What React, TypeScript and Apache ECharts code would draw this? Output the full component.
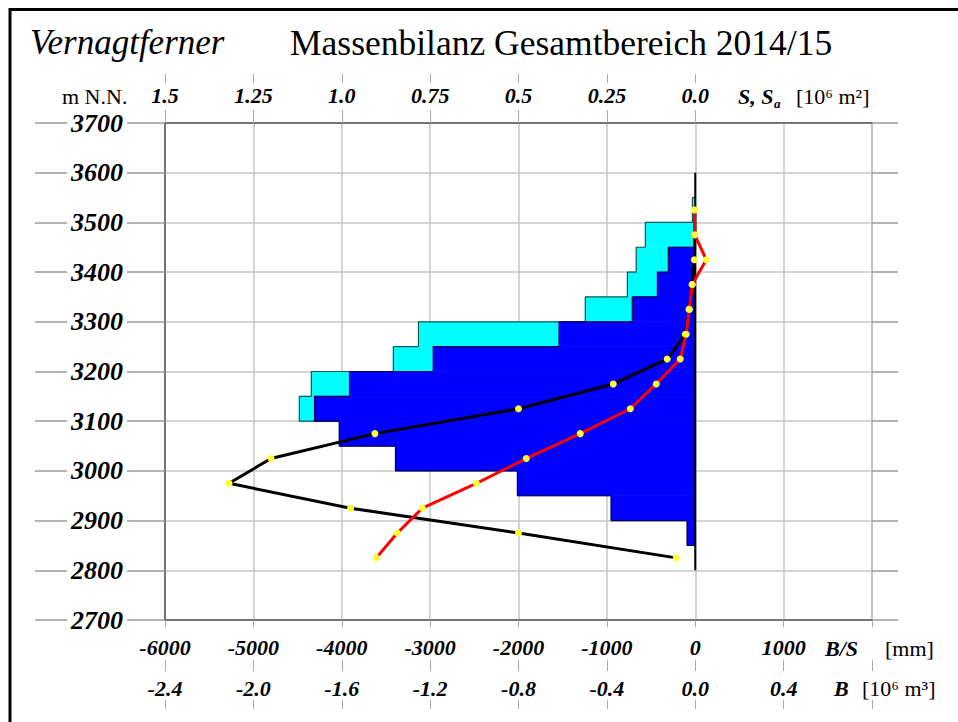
import React, { useEffect, useRef } from "react";
import * as echarts from "echarts";

// ---- data ----
// elevation bands (lower bound, 50 m bands), areas in 10^6 m^2
const blueBandLow = [2850, 2900, 2950, 3000, 3050, 3100, 3150, 3200, 3250, 3300, 3350, 3400];
const blueArea = [0.023, 0.238, 0.503, 0.848, 1.007, 1.077, 0.978, 0.741, 0.385, 0.178, 0.107, 0.076];
const cyanBandLow = [3100, 3150, 3200, 3250, 3300, 3350, 3400, 3450, 3500];
const cyanArea = [1.12, 1.086, 0.854, 0.783, 0.311, 0.192, 0.167, 0.141, 0.008];
const bandHeight = 50;

// band mid elevations for curves
const pointElev = [2825, 2875, 2925, 2975, 3025, 3075, 3125, 3175, 3225, 3275, 3325, 3375, 3425, 3475, 3525];
// specific balance B/S [mm]
const specBalance = [-3609, -3371, -3088, -2477, -1912, -1301, -735, -441, -170, -102, -68, -34, 124, -5, -10];
// volume balance B [10^6 m^3]
const volBalance = [-0.086, -0.8, -1.56, -2.11, -1.92, -1.45, -0.8, -0.371, -0.127, -0.045, -0.028, -0.014, -0.004, -0.002, -0.002];

// zero reference line
const zeroLineElev = [2800, 3600];

// tick labels
const elevTicks = [2700, 2800, 2900, 3000, 3100, 3200, 3300, 3400, 3500, 3600, 3700];
const mmTicks = [-6000, -5000, -4000, -3000, -2000, -1000, 0, 1000];
const volTicks = [-2.4, -2.0, -1.6, -1.2, -0.8, -0.4, 0.0, 0.4];
const areaTicks = [1.5, 1.25, 1.0, 0.75, 0.5, 0.25, 0.0];

const SERIF = '"Liberation Serif", "Times New Roman", serif';

function stepOutline(lows: number[], vals: number[]): number[][] {
  const idx = lows.map((_, i) => i).sort((a, b) => lows[b] - lows[a]);
  const pts: number[][] = [];
  pts.push([0, lows[idx[0]] + bandHeight]);
  idx.forEach((i) => {
    pts.push([vals[i], lows[i] + bandHeight]);
    pts.push([vals[i], lows[i]]);
  });
  pts.push([0, lows[idx[idx.length - 1]]]);
  return pts;
}

function bandSeries(name: string, lows: number[], vals: number[], color: string, z: number) {
  return {
    name,
    type: "custom",
    xAxisIndex: 3,
    yAxisIndex: 0,
    z,
    encode: { x: 1, y: 0 },
    data: lows.map((l, i) => [l, vals[i]]),
    renderItem: (params: any, api: any) => {
      const low = api.value(0);
      const s = api.value(1);
      const p0 = api.coord([0, low + bandHeight]);
      const p1 = api.coord([s, low]);
      return {
        type: "rect",
        shape: {
          x: Math.min(p0[0], p1[0]),
          y: Math.min(p0[1], p1[1]),
          width: Math.abs(p1[0] - p0[0]),
          height: Math.abs(p1[1] - p0[1]),
        },
        style: { fill: color, stroke: color, lineWidth: 0.6 },
      };
    },
  };
}

const fmtVol = (v: number) => (Math.round(v * 10) / 10 + 0).toFixed(1);
const fmtArea = (v: number) => {
  const r = Math.round(v * 100) / 100 + 0;
  if (r === 1) return "1.0";
  if (r === 0) return "0.0";
  return String(r);
};

export default function App() {
  const ref = useRef<HTMLDivElement>(null);
  useEffect(() => {
    if (!ref.current) return;
    const chart = echarts.init(ref.current, null, { renderer: "svg" });
    const labelFont = { fontFamily: SERIF, fontStyle: "italic", fontWeight: "bold", fontSize: 22, color: "#000" };
    const gridCol = "#c6c6c6";
    const axisCol = "#555";
    const tickCol = "#a8a8a8";

    const option: any = {
      animation: false,
      backgroundColor: "#fff",
      grid: { left: 165, top: 123, right: 86, bottom: 102, containLabel: false },
      xAxis: [
        {
          type: "value", position: "bottom", min: -6000, max: 2000, interval: 1000,
          axisLine: { show: true, onZero: false, lineStyle: { color: axisCol, width: 1.5 } },
          axisTick: { show: true, length: 7, lineStyle: { color: tickCol } },
          splitLine: { show: true, lineStyle: { color: gridCol, width: 1.5 } },
          axisLabel: { ...labelFont, margin: 16, customValues: mmTicks, formatter: (v: number) => String(v) },
        },
        {
          type: "value", position: "bottom", offset: 40, min: -2.4, max: 0.8, interval: 0.4,
          axisLine: { show: false, onZero: false },
          axisTick: { show: true, length: 11, lineStyle: { color: tickCol } },
          splitLine: { show: false },
          axisLabel: { ...labelFont, margin: 17, customValues: volTicks, formatter: fmtVol },
        },
        {
          type: "value", position: "bottom", offset: 80, min: -2.4, max: 0.8, interval: 0.4,
          axisLine: { show: false, onZero: false },
          axisTick: { show: true, length: 9, lineStyle: { color: tickCol } },
          splitLine: { show: false },
          axisLabel: { show: false },
        },
        {
          type: "value", position: "top", min: -0.5, max: 1.5, interval: 0.25, inverse: true,
          axisLine: { show: true, onZero: false, lineStyle: { color: axisCol, width: 1.5 } },
          axisTick: { show: true, length: 13, customValues: areaTicks, lineStyle: { color: tickCol } },
          splitLine: { show: false },
          axisLabel: { ...labelFont, margin: 17, customValues: areaTicks, formatter: fmtArea },
        },
        {
          type: "value", position: "top", offset: 40, min: -0.5, max: 1.5, interval: 0.25, inverse: true,
          axisLine: { show: false, onZero: false },
          axisTick: { show: true, length: 9, customValues: areaTicks, lineStyle: { color: tickCol } },
          splitLine: { show: false },
          axisLabel: { show: false },
        },
      ],
      yAxis: [
        {
          type: "value", position: "left", min: 2700, max: 3700, interval: 100,
          axisLine: { show: true, onZero: false, lineStyle: { color: axisCol, width: 1.5 } },
          axisTick: { show: true, length: 130, lineStyle: { color: "#9a9a9a", width: 1.5 } },
          splitLine: { show: true, lineStyle: { color: gridCol, width: 1.5 } },
          axisLabel: {
            fontFamily: SERIF, fontStyle: "italic", fontWeight: "bold", fontSize: 26, color: "#000",
            margin: 38, backgroundColor: "#fff", padding: [0, 4, 0, 4],
            customValues: elevTicks, formatter: (v: number) => String(v),
          },
        },
        {
          type: "value", position: "right", min: 2700, max: 3700, interval: 100,
          axisLine: { show: true, onZero: false, lineStyle: { color: "#bdbdbd", width: 1.5 } },
          axisTick: { show: true, length: 26, lineStyle: { color: "#9a9a9a", width: 1.5 } },
          splitLine: { show: false },
          axisLabel: { show: false },
        },
      ],
      graphic: [
        { type: "rect", shape: { x: 10, y: 9.5, width: 1100, height: 1000 }, style: { fill: "none", stroke: "#000", lineWidth: 3 }, z: 100 },
        { type: "text", x: 30, y: 42, style: { text: "Vernagtferner", fontFamily: SERIF, fontStyle: "italic", fontSize: 35, fill: "#000", verticalAlign: "middle" } },
        { type: "text", x: 290, y: 43, style: { text: "Massenbilanz Gesamtbereich 2014/15", fontFamily: SERIF, fontSize: 35.5, fill: "#000", verticalAlign: "middle" } },
        { type: "text", x: 62, y: 96, style: { text: "m N.N.", fontFamily: SERIF, fontSize: 22, fill: "#000", verticalAlign: "middle" } },
        { type: "text", x: 738, y: 96, style: { text: "S, S", fontFamily: SERIF, fontStyle: "italic", fontWeight: "bold", fontSize: 22, fill: "#000", verticalAlign: "middle" } },
        { type: "text", x: 774, y: 103, style: { text: "a", fontFamily: SERIF, fontStyle: "italic", fontWeight: "bold", fontSize: 13, fill: "#000", verticalAlign: "middle" } },
        { type: "text", x: 796, y: 96, style: { text: "[10\u2076 m\u00b2]", fontFamily: SERIF, fontSize: 22, fill: "#000", verticalAlign: "middle" } },
        { type: "text", x: 825, y: 648, style: { text: "B/S", fontFamily: SERIF, fontStyle: "italic", fontWeight: "bold", fontSize: 22, fill: "#000", verticalAlign: "middle" } },
        { type: "text", x: 885, y: 648, style: { text: "[mm]", fontFamily: SERIF, fontSize: 22, fill: "#000", verticalAlign: "middle" } },
        { type: "text", x: 834, y: 688, style: { text: "B", fontFamily: SERIF, fontStyle: "italic", fontWeight: "bold", fontSize: 22, fill: "#000", verticalAlign: "middle" } },
        { type: "text", x: 862, y: 688, style: { text: "[10\u2076 m\u00b3]", fontFamily: SERIF, fontSize: 22, fill: "#000", verticalAlign: "middle" } },
      ],
      series: [
        bandSeries("Sa", cyanBandLow, cyanArea, "#00ffff", 1),
        {
          name: "Sa outline", type: "line", xAxisIndex: 3, yAxisIndex: 0, z: 2, symbol: "none",
          lineStyle: { color: "#1d5656", width: 1.2 }, data: stepOutline(cyanBandLow, cyanArea),
        },
        bandSeries("S", blueBandLow, blueArea, "#0000ff", 3),
        {
          name: "S outline", type: "line", xAxisIndex: 3, yAxisIndex: 0, z: 4, symbol: "none",
          lineStyle: { color: "#00004d", width: 1.2 }, data: stepOutline(blueBandLow, blueArea),
        },
        {
          name: "zero", type: "line", xAxisIndex: 0, yAxisIndex: 0, z: 5, symbol: "none",
          lineStyle: { color: "#000", width: 2 }, data: zeroLineElev.map((e) => [0, e]),
        },
        {
          name: "B", type: "line", xAxisIndex: 1, yAxisIndex: 0, z: 6,
          symbol: "circle", symbolSize: 7, showSymbol: true,
          itemStyle: { color: "#ffff33" },
          lineStyle: { color: "#000", width: 3 },
          data: pointElev.map((e, i) => [volBalance[i], e]),
        },
        {
          name: "B/S", type: "line", xAxisIndex: 0, yAxisIndex: 0, z: 7,
          symbol: "circle", symbolSize: 7, showSymbol: true,
          itemStyle: { color: "#ffff33" },
          lineStyle: { color: "#ff0000", width: 3 },
          data: pointElev.map((e, i) => [specBalance[i], e]),
        },
      ],
    };
    chart.setOption(option);
    return () => chart.dispose();
  }, []);
  return (
    <div
      ref={ref}
      style={{ position: "fixed", left: 0, top: 0, width: 958, height: 722, background: "#fff" }}
    />
  );
}
